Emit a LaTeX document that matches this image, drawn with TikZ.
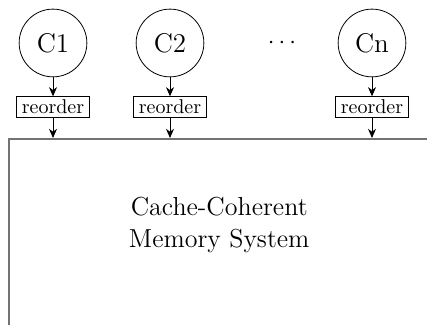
\documentclass[tikz,border=0pt]{standalone}
\usetikzlibrary{arrows.meta}

\begin{document}
\begin{tikzpicture}[
    core/.style={draw, circle, minimum size=1.19cm, inner sep=0pt, font=\fontsize{13.5}{16}\selectfont},
    reorderbox/.style={draw, rectangle, inner xsep=2.5pt, inner ysep=1.6pt},
    membox/.style={draw=black!55, line width=0.8pt, rectangle, anchor=north west, minimum width=8cm, minimum height=4cm},
    flow/.style={-{Stealth[length=4.6pt, width=4pt]}}
]
    \useasboundingbox (0,0) rectangle (7.5,5.708);
    \clip (0,0) rectangle (7.5,5.708);
    \node[core] (C1) at (0.931,4.953) {C1};
    \node[core] (C2) at (2.986,4.953) {C2};
    \node[font=\large] (dots) at (4.953,4.953) {$\cdots$};
    \node[core] (Cn) at (6.534,4.953) {Cn};
    \node[reorderbox] (R1) at (0.931,3.829) {reorder};
    \node[reorderbox] (R2) at (2.986,3.829) {reorder};
    \node[reorderbox] (Rn) at (6.534,3.829) {reorder};
    \node[membox] (mem) at (0.14,3.284) {};
    \node[align=center, font=\fontsize{13}{15.5}\selectfont] (memtext) at (3.85,1.756) {Cache-Coherent\\ Memory System};
    \draw[flow] (C1) -- (R1);
    \draw[flow] (C2) -- (R2);
    \draw[flow] (Cn) -- (Rn);
    \draw[flow] (R1) -- (R1 |- mem.north);
    \draw[flow] (R2) -- (R2 |- mem.north);
    \draw[flow] (Rn) -- (Rn |- mem.north);
\end{tikzpicture}
\end{document}
